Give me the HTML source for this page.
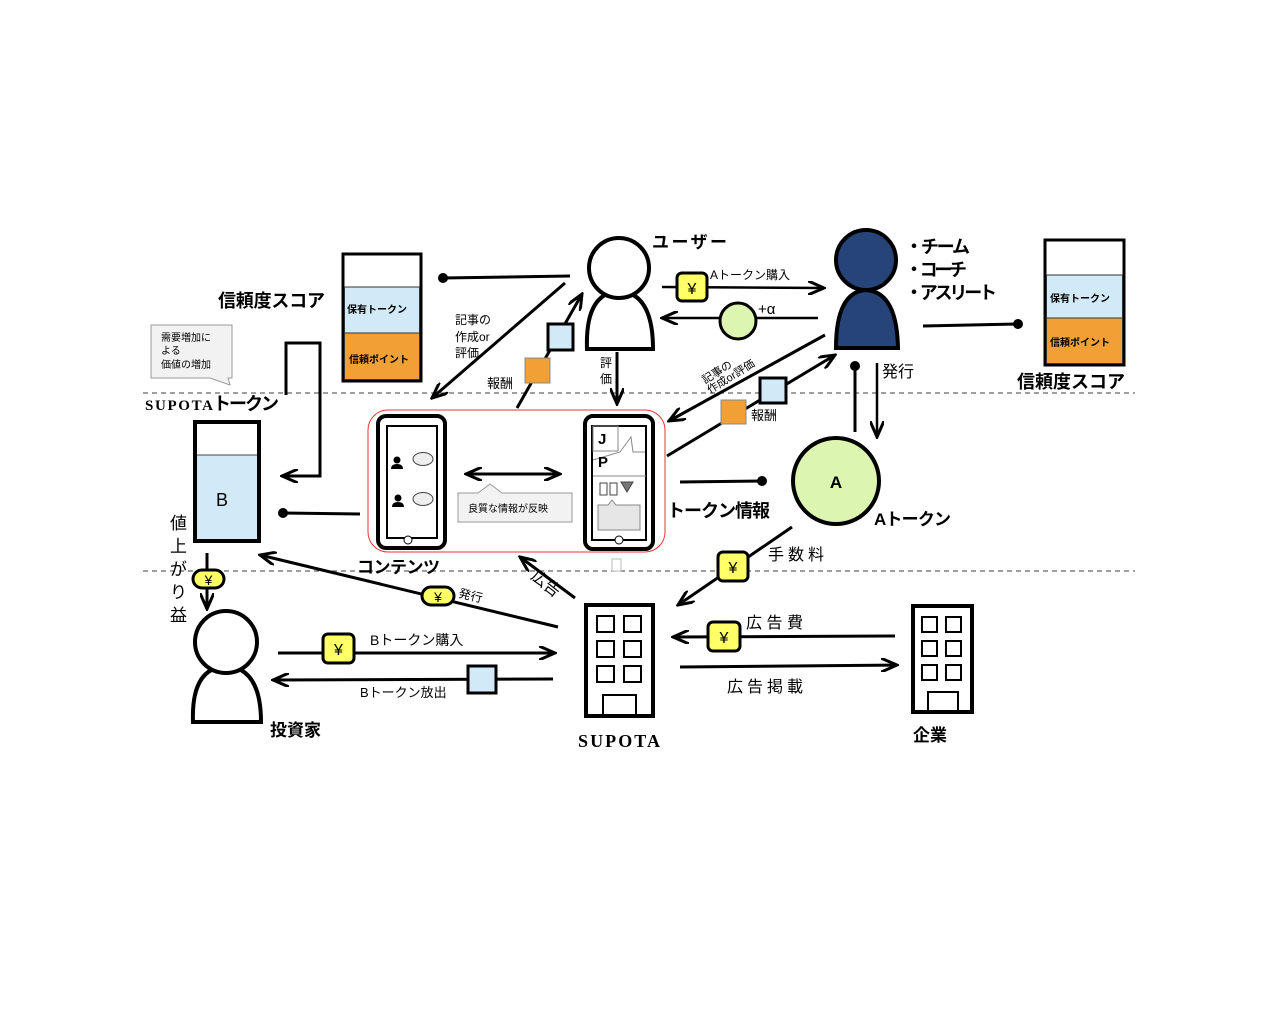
<!DOCTYPE html>
<html><head><meta charset="utf-8"><style>
html,body{margin:0;padding:0;background:#fff}
svg{display:block}
text{font-family:"Liberation Sans","Noto Sans CJK JP",sans-serif;fill:#000}
.b{font-weight:bold}
</style></head><body>
<svg width="1281" height="1024" viewBox="0 0 1281 1024" xmlns="http://www.w3.org/2000/svg">
<defs>
<marker id="ars" markerWidth="18" markerHeight="14" refX="16" refY="7" orient="auto-start-reverse" markerUnits="userSpaceOnUse">
<path d="M0,0 L16,7 L0,14" fill="none" stroke="#000" stroke-width="3"/>
</marker>
</defs>
<g stroke="#666" stroke-width="1.2" stroke-dasharray="5,4">
<line x1="143" y1="393" x2="1135" y2="393"/>
<line x1="143" y1="571" x2="1135" y2="571"/>
</g>

<rect x="343" y="254" width="78" height="127" fill="#fff" stroke="#000" stroke-width="3"/>
<rect x="344.5" y="287" width="75" height="46" fill="#d2e9f7" stroke="#333" stroke-width="1"/>
<rect x="344.5" y="333" width="75" height="46.5" fill="#f0a035" stroke="#333" stroke-width="1"/>
<text x="347" y="313" font-size="10" class="b">保有トークン</text>
<text x="349" y="363" font-size="10" class="b">信頼ポイント</text>
<text x="218" y="307" font-size="18" class="b" textLength="107">信頼度スコア</text>
<line x1="443" y1="278" x2="570" y2="276" stroke="#000" stroke-width="3"/>
<circle cx="443" cy="278" r="5"/>

<path d="M587,349 Q585,293 619,291 Q653,293 653,349 Z" fill="#fff" stroke="#000" stroke-width="4"/>
<circle cx="619" cy="268" r="30" fill="#fff" stroke="#000" stroke-width="4"/>
<text x="652" y="248" font-size="17" class="b" textLength="75">ユーザー</text>

<line x1="662" y1="287" x2="824" y2="288" stroke="#000" stroke-width="2.5" marker-end="url(#ars)"/>
<rect x="677" y="273" width="30" height="28" rx="5" fill="#ffff66" stroke="#000" stroke-width="3"/>
<text x="692" y="294" font-size="16" text-anchor="middle">¥</text>
<text x="710" y="279" font-size="12">Aトークン購入</text>
<line x1="818" y1="318" x2="662" y2="318" stroke="#000" stroke-width="2.5" marker-end="url(#ars)"/>
<circle cx="738" cy="321" r="18" fill="#dcf5b0" stroke="#000" stroke-width="3"/>
<text x="758" y="314" font-size="15">+α</text>

<path d="M836,348 Q836,292 866,290 Q897,292 898,348 Z" fill="#264478" stroke="#000" stroke-width="4"/>
<circle cx="866" cy="260" r="30" fill="#264478" stroke="#000" stroke-width="4"/>
<text x="905" y="253" font-size="18" class="b" textLength="65">・チーム</text>
<text x="905" y="276" font-size="18" class="b" textLength="62">・コーチ</text>
<text x="905" y="299" font-size="18" class="b" textLength="92">・アスリート</text>
<line x1="923" y1="326" x2="1018" y2="324" stroke="#000" stroke-width="3"/>
<circle cx="1018" cy="324" r="5"/>

<rect x="1045" y="240" width="79" height="125" fill="#fff" stroke="#000" stroke-width="3"/>
<rect x="1046.5" y="275" width="76" height="43" fill="#d2e9f7" stroke="#333" stroke-width="1"/>
<rect x="1046.5" y="318" width="76" height="45.5" fill="#f0a035" stroke="#333" stroke-width="1"/>
<text x="1050" y="302" font-size="10" class="b">保有トークン</text>
<text x="1050" y="346" font-size="10" class="b">信頼ポイント</text>
<text x="1017" y="388" font-size="18" class="b" textLength="108">信頼度スコア</text>

<line x1="565" y1="283" x2="432" y2="398" stroke="#000" stroke-width="3" marker-end="url(#ars)"/>
<text x="455" y="324" font-size="12">記事の</text>
<text x="455" y="341" font-size="12">作成or</text>
<text x="455" y="357" font-size="12">評価</text>
<line x1="517" y1="408" x2="582" y2="294" stroke="#000" stroke-width="3" marker-end="url(#ars)"/>
<rect x="548" y="324" width="25" height="26" fill="#d2e9f7" stroke="#000" stroke-width="3"/>
<rect x="525" y="358" width="25" height="25" fill="#f0a035" stroke="#888" stroke-width="1"/>
<text x="487" y="388" font-size="13">報酬</text>
<text x="600" y="367" font-size="12">評</text>
<text x="600" y="383" font-size="12">価</text>
<line x1="617" y1="352" x2="617" y2="404" stroke="#000" stroke-width="3" marker-end="url(#ars)"/>

<rect x="368" y="410" width="297" height="142" rx="20" fill="none" stroke="#e33" stroke-width="1"/>

<rect x="378" y="416" width="67" height="132" rx="8" fill="#fff" stroke="#000" stroke-width="4"/>
<rect x="387" y="426" width="50" height="112" fill="#fff" stroke="#000" stroke-width="2"/>
<circle cx="408" cy="540" r="4" fill="#fff" stroke="#000" stroke-width="1"/>
<g fill="#000"><circle cx="397" cy="460" r="3.5"/><path d="M391,469 Q391,464 397,464 Q403,464 403,469 Z"/>
<circle cx="398" cy="498" r="3.5"/><path d="M392,507 Q392,502 398,502 Q404,502 404,507 Z"/></g>
<ellipse cx="423" cy="459" rx="10" ry="6.5" fill="#eee" stroke="#444"/>
<ellipse cx="423" cy="499" rx="10" ry="6.5" fill="#eee" stroke="#444"/>

<line x1="466" y1="474" x2="560" y2="474" stroke="#000" stroke-width="3" marker-end="url(#ars)" marker-start="url(#ars)"/>
<path d="M458,493 L478,493 L490,484 L502,493 L572,493 L572,522 L458,522 Z" fill="#f2f2f2" stroke="#999" stroke-width="1"/>
<text x="468" y="512" font-size="10">良質な情報が反映</text>

<rect x="585" y="416" width="68" height="133" rx="8" fill="#fff" stroke="#000" stroke-width="4"/>
<rect x="592" y="426" width="54" height="114" fill="#fff" stroke="#000" stroke-width="2"/>
<circle cx="619" cy="540" r="4" fill="#fff" stroke="#000" stroke-width="1"/>
<rect x="593" y="426" width="25" height="25" fill="none" stroke="#888"/>
<polyline points="593,460 620,452 631,437 633,452 645,452" fill="none" stroke="#888"/>
<line x1="593" y1="476" x2="646" y2="476" stroke="#888"/>
<text x="598" y="444" font-size="15" class="b">J</text>
<text x="598" y="467" font-size="15" class="b">P</text>
<rect x="600" y="483" width="7" height="12" fill="none" stroke="#444"/>
<rect x="610" y="483" width="7" height="12" fill="none" stroke="#444"/>
<path d="M621,482 L633,482 L627,492 Z" fill="#777" stroke="#444"/>
<path d="M598,505 L608,505 L612,500 L616,505 L640,505 L640,530 L598,530 Z" fill="#e6e6e6" stroke="#888"/>
<rect x="612" y="559" width="9" height="12" fill="#fff" stroke="#bbb"/>
<text x="357" y="573" font-size="17" class="b" textLength="83">コンテンツ</text>

<line x1="360" y1="514" x2="283" y2="513" stroke="#000" stroke-width="3"/>
<circle cx="283" cy="513" r="5"/>

<path d="M151,325 L232,325 L232,378 L228,378 L230,385 L210,378 L151,378 Z" fill="#f2f2f2" stroke="#999" stroke-width="1"/>
<text x="161" y="341" font-size="10">需要増加に</text>
<text x="161" y="354" font-size="10">よる</text>
<text x="161" y="368" font-size="10">価値の増加</text>
<polyline points="286,395 286,343 320,343 320,476 282,476" fill="none" stroke="#000" stroke-width="3" marker-end="url(#ars)"/>
<text x="145" y="410" font-size="15" class="b" style="font-family:'Liberation Serif',serif" textLength="68">SUPOTA</text>
<text x="213" y="410" font-size="18" class="b" textLength="66">トークン</text>

<rect x="195" y="422" width="64" height="119" fill="#fff" stroke="#000" stroke-width="4"/>
<rect x="197" y="455" width="60" height="84" fill="#d2e9f7"/>
<line x1="197" y1="455" x2="257" y2="455" stroke="#444" stroke-width="1"/>
<text x="216" y="506" font-size="18">B</text>
<g font-size="17"><text x="170" y="529">値</text><text x="170" y="552">上</text><text x="170" y="575">が</text><text x="170" y="598">り</text><text x="170" y="621">益</text></g>
<line x1="207" y1="553" x2="207" y2="609" stroke="#000" stroke-width="3" marker-end="url(#ars)"/>
<rect x="193" y="570" width="31" height="18" rx="9" fill="#ffff66" stroke="#000" stroke-width="3"/>
<text x="208.5" y="585" font-size="14" text-anchor="middle">¥</text>

<path d="M193,722 Q191,668 226,666 Q261,668 261,722 Z" fill="#fff" stroke="#000" stroke-width="4"/>
<circle cx="226" cy="642" r="31" fill="#fff" stroke="#000" stroke-width="4"/>
<text x="270" y="736" font-size="17" class="b">投資家</text>

<line x1="558" y1="627" x2="260" y2="555" stroke="#000" stroke-width="3" marker-end="url(#ars)"/>
<rect x="422" y="587" width="32" height="18" rx="9" fill="#ffff66" stroke="#000" stroke-width="3"/>
<text x="438" y="602" font-size="14" text-anchor="middle">¥</text>
<text x="458" y="597" font-size="12" transform="rotate(13 458 597)">発行</text>

<line x1="278" y1="653" x2="555" y2="653" stroke="#000" stroke-width="3" marker-end="url(#ars)"/>
<rect x="323" y="634" width="31" height="29" rx="5" fill="#ffff66" stroke="#000" stroke-width="3"/>
<text x="338.5" y="655" font-size="16" text-anchor="middle">¥</text>
<text x="370" y="645" font-size="14">Bトークン購入</text>
<line x1="553" y1="679" x2="273" y2="680" stroke="#000" stroke-width="3" marker-end="url(#ars)"/>
<rect x="468" y="666" width="28" height="27" fill="#d2e9f7" stroke="#000" stroke-width="3"/>
<text x="360" y="697" font-size="13">Bトークン放出</text>

<line x1="575" y1="598" x2="520" y2="557" stroke="#000" stroke-width="3" marker-end="url(#ars)"/>
<text x="530" y="578" font-size="16" transform="rotate(38 530 578)">広告</text>

<rect x="586" y="605" width="67" height="111" fill="#fff" stroke="#000" stroke-width="4"/>
<g fill="none" stroke="#000" stroke-width="2">
<rect x="597" y="616" width="17" height="16"/><rect x="624" y="616" width="17" height="16"/>
<rect x="597" y="641" width="17" height="16"/><rect x="624" y="641" width="17" height="16"/>
<rect x="597" y="666" width="17" height="16"/><rect x="624" y="666" width="17" height="16"/>
<rect x="603" y="695" width="33" height="20"/></g>
<text x="578" y="747" font-size="18" class="b" style="font-family:'Liberation Serif',serif" textLength="82">SUPOTA</text>

<line x1="680" y1="482" x2="762" y2="481" stroke="#000" stroke-width="3"/>
<circle cx="762" cy="481" r="5"/>
<text x="667" y="517" font-size="18" class="b" textLength="103">トークン情報</text>

<line x1="667" y1="456" x2="835" y2="355" stroke="#000" stroke-width="3" marker-end="url(#ars)"/>
<rect x="760" y="378" width="26" height="25" fill="#d2e9f7" stroke="#000" stroke-width="3"/>
<rect x="721" y="400" width="25" height="24" fill="#f0a035" stroke="#888" stroke-width="1"/>
<text x="751" y="420" font-size="13">報酬</text>
<line x1="825" y1="335" x2="669" y2="421" stroke="#000" stroke-width="3" marker-end="url(#ars)"/>
<text x="705" y="384" font-size="11" transform="rotate(-32 705 384)">記事の</text>
<text x="710" y="394" font-size="11" transform="rotate(-32 710 394)">作成or評価</text>

<line x1="855" y1="366" x2="855" y2="432" stroke="#000" stroke-width="3"/>
<circle cx="855" cy="366" r="5"/>
<line x1="877" y1="363" x2="877" y2="437" stroke="#000" stroke-width="2.5" marker-end="url(#ars)"/>
<text x="882" y="377" font-size="16">発行</text>

<circle cx="836" cy="481" r="43" fill="#dcf5b0" stroke="#000" stroke-width="4"/>
<text x="836" y="488" font-size="17" class="b" text-anchor="middle">A</text>
<text x="874" y="525" font-size="17" class="b" textLength="77">Aトークン</text>

<line x1="792" y1="527" x2="678" y2="605" stroke="#000" stroke-width="3" marker-end="url(#ars)"/>
<rect x="718" y="552" width="30" height="29" rx="5" fill="#ffff66" stroke="#000" stroke-width="3"/>
<text x="733" y="573" font-size="16" text-anchor="middle">¥</text>
<text x="768" y="560" font-size="16" textLength="56">手数料</text>

<line x1="895" y1="636" x2="673" y2="637" stroke="#000" stroke-width="3" marker-end="url(#ars)"/>
<rect x="708" y="622" width="32" height="29" rx="5" fill="#ffff66" stroke="#000" stroke-width="3"/>
<text x="724" y="643" font-size="16" text-anchor="middle">¥</text>
<text x="746" y="628" font-size="16" textLength="57">広告費</text>
<line x1="680" y1="667" x2="897" y2="665" stroke="#000" stroke-width="3" marker-end="url(#ars)"/>
<text x="727" y="692" font-size="16" textLength="76">広告掲載</text>

<rect x="913" y="606" width="59" height="106" fill="#fff" stroke="#000" stroke-width="4"/>
<g fill="none" stroke="#000" stroke-width="2">
<rect x="922" y="617" width="15" height="15"/><rect x="946" y="617" width="15" height="15"/>
<rect x="922" y="641" width="15" height="15"/><rect x="946" y="641" width="15" height="15"/>
<rect x="922" y="665" width="15" height="15"/><rect x="946" y="665" width="15" height="15"/>
<rect x="928" y="692" width="30" height="19"/></g>
<text x="913" y="741" font-size="17" class="b">企業</text>
</svg>
</body></html>
